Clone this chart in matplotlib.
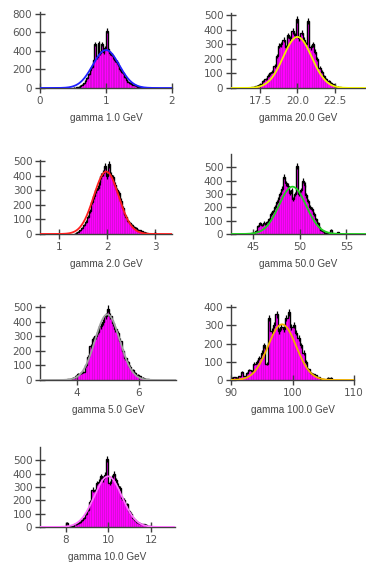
import numpy as np
import matplotlib.pyplot as plt

# gamma 1.0 GeV
e1_lo, e1_w = 0.5, 0.025
e1_counts = [5, 0, 8, 15, 25, 35, 50, 80, 110, 150, 190, 230, 300, 470, 330, 490,
             380, 470, 390, 430, 620, 420, 380, 360, 330, 300, 280, 250, 200, 175,
             160, 120, 90, 70, 55, 45, 35, 30, 25, 15, 12, 8, 5, 3, 2, 0]
e1_fit = (410, 1.0, 0.2)

# gamma 20.0 GeV
e20_lo, e20_w = 16.9, 0.15
e20_counts = [5, 10, 15, 20, 25, 45, 60, 85, 100, 110, 150, 220, 290, 300, 330, 280,
              360, 340, 390, 360, 470, 340, 380, 330, 300, 460, 280, 300, 250, 200,
              140, 110, 80, 60, 50, 35, 25, 15, 10, 5, 3]
e20_fit = (350, 20.0, 0.95)

# gamma 2.0 GeV
e2_lo, e2_w = 1.3, 0.04
e2_counts = [3, 8, 15, 25, 40, 60, 85, 120, 160, 220, 260, 300, 320, 360, 400, 420,
             470, 400, 480, 410, 390, 340, 300, 280, 230, 180, 140, 120, 90, 75,
             60, 45, 40, 30, 25, 18, 12, 8, 5, 3, 0, 0, 8]
e2_fit = (430, 1.98, 0.26)

# gamma 50.0 GeV
e50_lo, e50_w = 44.8, 0.2
e50_counts = [5, 10, 25, 60, 80, 70, 85, 75, 90, 110, 150, 170, 200, 240, 260, 300,
              340, 430, 380, 360, 310, 330, 260, 300, 510, 300, 330, 400, 370, 290,
              250, 200, 190, 150, 110, 80, 50, 30, 20, 10, 5, 0, 30, 0, 0, 0, 12]
e50_fit = (355, 49.2, 1.45)

# gamma 5.0 GeV
e5_lo, e5_w = 3.68, 0.08
e5_counts = [5, 10, 15, 30, 40, 45, 55, 100, 160, 230, 280, 300, 330, 370, 400, 440,
             490, 440, 390, 350, 320, 270, 200, 150, 120, 90, 70, 50, 35, 25,
             15, 10, 5, 3]
e5_fit = (450, 4.98, 0.4)

# gamma 100.0 GeV
e100_lo, e100_w = 90.0, 0.4
e100_counts = [12, 15, 12, 20, 45, 20, 40, 55, 50, 90, 100, 120, 150, 190, 90, 340,
               270, 300, 360, 270, 290, 280, 340, 370, 290, 300, 260, 230, 190, 150,
               100, 60, 40, 35, 25, 15, 8, 3, 0, 12, 12]
e100_fit = (305, 98.3, 2.3)

# gamma 10.0 GeV
e10_lo, e10_w = 7.9, 0.1
e10_counts = [0, 30, 5, 5, 10, 20, 30, 40, 55, 70, 100, 130, 190, 280, 270, 330,
              340, 380, 360, 390, 510, 330, 370, 400, 350, 310, 290, 220, 200, 170,
              120, 100, 70, 55, 40, 30, 25, 20, 15, 8, 5]
e10_fit = (380, 9.98, 0.65)

W, H = 366, 563
fig = plt.figure(figsize=(W / 100, H / 100), dpi=100)
fig.patch.set_facecolor('white')


def draw_panel(box, xlim, ylim, yticks, xticks, xfmt, lo, w, counts, fit, fitcolor, label):
    l, r, b, t = box
    ax = fig.add_axes([l / W, 1 - b / H, (r - l) / W, (b - t) / H])
    counts = np.array(counts, dtype=float)
    edges = lo + w * np.arange(len(counts) + 1)
    centers = 0.5 * (edges[:-1] + edges[1:])
    ax.bar(edges[:-1], counts, width=w, align='edge', color='#ff00ff',
           edgecolor='#c800c8', linewidth=0.4, zorder=1)
    ax.stairs(counts, edges, color='black', linewidth=1.0, zorder=2)
    ax.errorbar(centers, counts, yerr=np.sqrt(counts), fmt='none',
                ecolor='black', elinewidth=0.9, zorder=2)
    xs = np.linspace(xlim[0], xlim[1], 400)
    amp, mu, sig = fit
    ax.plot(xs, amp * np.exp(-0.5 * ((xs - mu) / sig) ** 2), color=fitcolor,
            linewidth=1.3, zorder=3)
    ax.set_xlim(xlim)
    ax.set_ylim(ylim)
    ax.set_yticks(yticks)
    ax.set_xticks(xticks)
    ax.set_xticklabels([xfmt.format(v) for v in xticks])
    for s in ['top', 'right']:
        ax.spines[s].set_visible(False)
    for s in ['left', 'bottom']:
        ax.spines[s].set_color('#404040')
        ax.spines[s].set_linewidth(1.0)
    ax.patch.set_alpha(0)
    ax.tick_params(direction='inout', length=7, width=1, color='#404040',
                   labelsize=7.5, labelcolor='#555555', pad=2)
    ax.set_xlabel(label, fontsize=7.2, family='Liberation Sans', color='#444444', labelpad=5)
    return ax


draw_panel((40, 172, 88, 12), (0, 2), (0, 820), [0, 200, 400, 600, 800], [0, 1, 2], '{:g}',
           e1_lo, e1_w, e1_counts, e1_fit, '#2020ff', 'gamma 1.0 GeV')
draw_panel((231, 366, 88, 13), (15.57, 24.57), (0, 514), [0, 100, 200, 300, 400, 500],
           [17.5, 20.0, 22.5], '{:.1f}',
           e20_lo, e20_w, e20_counts, e20_fit, '#f0f000', 'gamma 20.0 GeV')
draw_panel((40, 172, 234, 160), (0.6, 3.35), (0, 510), [0, 100, 200, 300, 400, 500], [1, 2, 3],
           '{:g}', e2_lo, e2_w, e2_counts, e2_fit, '#ff2020', 'gamma 2.0 GeV')
draw_panel((231, 366, 234, 154), (42.6, 57.1), (0, 600), [0, 100, 200, 300, 400, 500],
           [45, 50, 55], '{:g}',
           e50_lo, e50_w, e50_counts, e50_fit, '#20d020', 'gamma 50.0 GeV')
draw_panel((40, 176, 380, 305), (2.8, 7.2), (0, 514), [0, 100, 200, 300, 400, 500], [4, 6],
           '{:g}', e5_lo, e5_w, e5_counts, e5_fit, '#a0a0a0', 'gamma 5.0 GeV')
draw_panel((231, 354, 380, 305), (90, 110), (0, 411), [0, 100, 200, 300, 400], [90, 100, 110],
           '{:g}', e100_lo, e100_w, e100_counts, e100_fit, '#f0b000', 'gamma 100.0 GeV')
draw_panel((40, 175, 527, 447), (6.78, 13.13), (0, 600), [0, 100, 200, 300, 400, 500],
           [8, 10, 12], '{:g}',
           e10_lo, e10_w, e10_counts, e10_fit, '#ff70ff', 'gamma 10.0 GeV')

fig.savefig('out.png', dpi=100)
